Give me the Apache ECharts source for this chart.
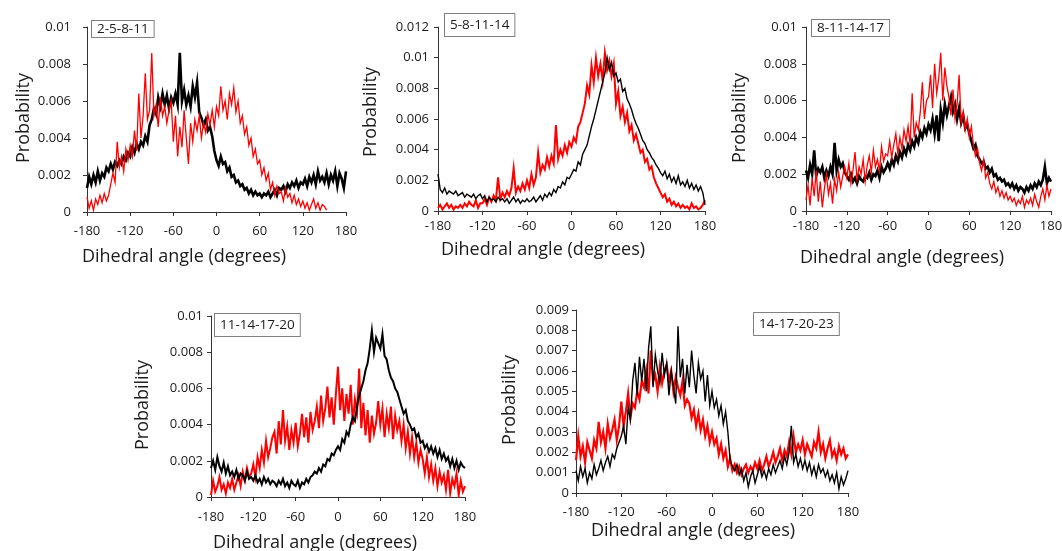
<!DOCTYPE html>
<html>
<head>
<meta charset="utf-8">
<script src="https://cdn.jsdelivr.net/npm/echarts@6/dist/echarts.min.js"></script>
<style>
  html, body { margin: 0; background: #fff; }
  #chart { width: 1062px; height: 551px; }
</style>
</head>
<body>
<div id="chart"></div>
<script>
// dihedral angle bins (degrees), one every 3 degrees from -180 to 180
const angleStep = 3
const angles = []
for (let a = -180; a <= 180; a += angleStep) angles.push(a)

// probabilities, in units of 1e-4 (one row = 30 degrees)
const p1Black = [
  13, 19, 15, 20, 16, 22, 17, 21, 19, 24,
  22, 26, 23, 27, 25, 28, 26, 30, 28, 32,
  30, 35, 32, 37, 34, 38, 36, 41, 38, 47,
  50, 56, 53, 62, 57, 64, 58, 63, 56, 62,
  59, 64, 58, 86, 60, 66, 58, 63, 57, 68,
  62, 70, 54, 51, 47, 50, 44, 46, 41, 33,
  28, 25, 30, 26, 27, 22, 24, 19, 20, 16,
  17, 14, 15, 12, 13, 10, 12, 9, 11, 9,
  10, 8, 10, 9, 11, 8, 10, 12, 9, 13,
  12, 14, 11, 15, 13, 16, 14, 17, 13, 16,
  15, 18, 14, 19, 16, 20, 15, 22, 17, 19,
  16, 21, 15, 20, 17, 22, 14, 21, 18, 13,
  22
]
const p1Red = [
  8, 2, 6, 1, 7, 4, 9, 5, 10, 6,
  9, 15, 21, 16, 38, 24, 30, 22, 34, 28,
  36, 30, 44, 33, 64, 40, 52, 75, 50, 55,
  86, 52, 58, 46, 62, 52, 57, 48, 55, 60,
  38, 52, 30, 46, 35, 55, 40, 26, 48, 38,
  50, 44, 52, 40, 48, 43, 53, 47, 55, 46,
  57, 52, 68, 55, 60, 50, 64, 58, 67, 54,
  60, 48, 52, 42, 46, 36, 40, 30, 34, 26,
  28, 20, 24, 17, 21, 12, 16, 9, 14, 10,
  11, 6, 13, 8, 10, 5, 9, 4, 7, 3,
  6, 2, 5, 1, 4, 7, 2, 5, 1, 4,
  3, 1, null, null, null, null, null, null, null, null,
  null
]
const p2Black = [
  24, 14, 12, 15, 11, 13, 12, 11, 13, 10,
  11, 12, 9, 11, 10, 9, 11, 8, 10, 11,
  8, 10, 6, 9, 7, 8, 6, 9, 7, 8,
  6, 8, 5, 7, 9, 6, 8, 5, 7, 6,
  8, 6, 7, 9, 6, 8, 10, 7, 11, 9,
  12, 10, 14, 12, 16, 15, 19, 17, 22, 21,
  24, 27, 26, 32, 30, 37, 40, 43, 49, 55,
  60, 66, 72, 78, 84, 90, 100, 92, 97, 88,
  90, 84, 86, 78, 80, 73, 70, 66, 61, 57,
  54, 50, 46, 44, 40, 38, 35, 33, 30, 28,
  25, 23, 26, 21, 24, 19, 22, 18, 23, 17,
  19, 16, 20, 15, 18, 14, 17, 13, 16, 12,
  4
]
const p2Red = [
  2, 4, 1, 3, 5, 2, 4, 1, 3, 2,
  4, 2, 5, 3, 6, 4, 3, 7, 2, 5,
  5, 8, 4, 9, 6, 10, 7, 22, 8, 12,
  9, 13, 10, 15, 28, 12, 16, 13, 18, 14,
  20, 15, 24, 17, 22, 38, 25, 30, 27, 35,
  29, 36, 31, 56, 34, 40, 36, 43, 38, 45,
  42, 48, 45, 55, 58, 64, 70, 82, 76, 95,
  84, 100, 88, 96, 85, 103, 92, 98, 88, 96,
  70, 78, 62, 68, 58, 64, 52, 56, 46, 50,
  44, 38, 40, 32, 34, 27, 29, 22, 18, 15,
  12, 9, 11, 6, 8, 4, 6, 3, 5, 2,
  4, 2, 3, 1, 5, 2, 3, 1, 2, 4,
  7
]
const p3Black = [
  22, 18, 25, 20, 33, 19, 23, 21, 24, 18,
  22, 19, 24, 20, 37, 22, 28, 24, 26, 21,
  19, 17, 20, 16, 18, 15, 19, 17, 16, 19,
  18, 21, 17, 20, 19, 22, 18, 24, 21, 23,
  26, 23, 28, 25, 30, 27, 32, 29, 34, 31,
  36, 33, 38, 35, 40, 37, 43, 40, 45, 42,
  47, 44, 50, 42, 52, 38, 55, 48, 58, 52,
  57, 62, 54, 58, 50, 56, 48, 52, 45, 47,
  42, 38, 34, 36, 30, 28, 26, 27, 23, 24,
  21, 23, 19, 20, 17, 18, 16, 17, 14, 15,
  13, 15, 12, 14, 11, 13, 12, 10, 13, 11,
  14, 12, 15, 13, 16, 14, 17, 24, 15, 18,
  16
]
const p3Red = [
  6, 14, 3, 18, 8, 22, 5, 16, 2, 12,
  20, 9, 15, 4, 17, 11, 21, 13, 19, 24,
  18, 26, 15, 22, 32, 17, 24, 20, 28, 16,
  25, 30, 21, 33, 24, 28, 22, 35, 27, 31,
  30, 38, 29, 36, 42, 31, 40, 34, 44, 38,
  46, 36, 64, 40, 48, 44, 54, 70, 50, 60,
  62, 74, 56, 80, 64, 72, 86, 60, 78, 68,
  62, 52, 66, 50, 58, 74, 48, 54, 44, 50,
  40, 46, 36, 30, 34, 26, 22, 28, 18, 21,
  15, 12, 16, 10, 13, 8, 11, 7, 10, 6,
  8, 5, 7, 3, 6, 4, 8, 2, 6, 4,
  7, 3, 9, 5, 2, 8, 12, 6, 14, 8,
  12
]
const p4Black = [
  16, 20, 15, 22, 17, 14, 19, 13, 17, 12,
  14, 11, 15, 10, 13, 12, 9, 14, 10, 11,
  9, 12, 8, 10, 7, 11, 8, 10, 7, 9,
  8, 6, 9, 7, 10, 6, 8, 5, 9, 7,
  6, 9, 5, 8, 7, 10, 8, 11, 12, 14,
  13, 16, 14, 18, 17, 21, 20, 24, 23, 26,
  28, 26, 32, 30, 36, 34, 40, 44, 42, 50,
  56, 60, 64, 70, 74, 82, 92, 80, 88, 85,
  82, 90, 78, 76, 70, 66, 64, 60, 58, 54,
  50, 46, 48, 42, 40, 37, 38, 33, 35, 30,
  31, 27, 29, 25, 28, 24, 27, 22, 26, 21,
  24, 20, 22, 17, 21, 16, 20, 15, 19, 17,
  16
]
const p4Red = [
  1, 9, 3, 6, 11, 4, 7, 2, 8, 5,
  10, 4, 8, 12, 6, 14, 9, 16, 11, 13,
  18, 11, 22, 16, 26, 19, 31, 22, 27, 33,
  36, 24, 42, 29, 48, 31, 39, 26, 37, 30,
  41, 28, 35, 46, 33, 44, 30, 47, 37, 42,
  50, 38, 56, 42, 49, 61, 44, 55, 40, 57,
  72, 48, 60, 42, 57, 46, 62, 40, 54, 47,
  71, 38, 52, 34, 48, 30, 45, 35, 41, 53,
  40, 49, 33, 46, 38, 50, 32, 45, 37, 42,
  31, 40, 27, 36, 24, 33, 22, 30, 19, 26,
  21, 13, 22, 11, 18, 9, 16, 6, 14, 8,
  12, 4, 15, 2, 10, 6, 13, 1, 9, 3,
  6
]
const p5Black = [
  11, 6, 13, 8, 12, 5, 10, 7, 14, 9,
  12, 16, 11, 15, 18, 13, 19, 17, 22, 25,
  28, 33, 24, 42, 36, 55, 64, 48, 67, 55,
  66, 50, 71, 82, 52, 68, 60, 54, 69, 58,
  64, 48, 60, 52, 44, 82, 57, 66, 49, 63,
  52, 70, 58, 49, 64, 56, 60, 45, 58, 43,
  50, 42, 46, 38, 43, 34, 40, 30, 16, 13,
  11, 14, 9, 12, 6, 10, 3, 8, 11, 5,
  9, 13, 8, 11, 7, 12, 9, 14, 10, 13,
  16, 12, 18, 14, 20, 33, 15, 19, 13, 17,
  12, 16, 11, 15, 9, 13, 8, 14, 10, 12,
  8, 11, 6, 9, 5, 10, 2, 8, 4, 7,
  11
]
const p5Red = [
  16, 28, 18, 23, 15, 25, 21, 17, 26, 22,
  35, 25, 30, 22, 34, 27, 31, 36, 26, 33,
  45, 33, 40, 49, 37, 44, 42, 50, 46, 55,
  52, 60, 49, 70, 55, 58, 50, 62, 54, 60,
  63, 55, 60, 50, 57, 52, 48, 55, 43, 46,
  44, 37, 41, 33, 39, 31, 36, 28, 33, 25,
  30, 24, 27, 19, 24, 17, 21, 13, 17, 11,
  14, 10, 13, 9, 12, 14, 10, 13, 11, 15,
  12, 16, 11, 14, 18, 13, 16, 20, 15, 18,
  22, 16, 21, 18, 25, 19, 28, 20, 24, 21,
  26, 19, 24, 21, 18, 25, 22, 30, 20, 24,
  17, 22, 26, 18, 21, 16, 23, 19, 22, 17,
  19
]

const xTicks = { min: -180, max: 180, step: 60 }
const dataScale = 10000

const font = '"Open Sans", "Liberation Sans", sans-serif'
const ink = '#1a1a1a'
const axisColor = '#333'

// layout of the five panels (pixel positions)
const panels = [
  { label: '2-5-8-11', black: p1Black, red: p1Red, yMax: 0.01, yStep: 0.002,
    grid: { left: 87, top: 27, width: 259, height: 185 },
    blackWidth: 2.6, redWidth: 1.3, redOnTop: true, yMargin: 16, xMargin: 13,
    box: [92, 21, [1, 5]], yTitle: [24, 118], xTitle: [184, 257] },
  { label: '5-8-11-14', black: p2Black, red: p2Red, yMax: 0.012, yStep: 0.002,
    grid: { left: 438, top: 27, width: 267, height: 184 },
    blackWidth: 1.4, redWidth: 2, redOnTop: false, yMargin: 9, xMargin: 9,
    box: [445, 14, [4, 5]], yTitle: [371, 112], xTitle: [543, 250] },
  { label: '8-11-14-17', black: p3Black, red: p3Red, yMax: 0.01, yStep: 0.002,
    grid: { left: 806, top: 27, width: 245, height: 184 },
    blackWidth: 2.6, redWidth: 1.3, redOnTop: true, yMargin: 9, xMargin: 9,
    box: [812, 20, [1, 5]], yTitle: [740, 118], xTitle: [902, 258] },
  { label: '11-14-17-20', black: p4Black, red: p4Red, yMax: 0.01, yStep: 0.002,
    grid: { left: 211, top: 316, width: 254, height: 181 },
    blackWidth: 2, redWidth: 2, redOnTop: false, yMargin: 8, xMargin: 14,
    box: [215, 314, [4, 5]], yTitle: [143, 405], xTitle: [315, 543] },
  { label: '14-17-20-23', black: p5Black, red: p5Red, yMax: 0.009, yStep: 0.001,
    grid: { left: 576, top: 310, width: 272, height: 183 },
    blackWidth: 1.4, redWidth: 2.2, redOnTop: false, yMargin: 7, xMargin: 13,
    box: [754, 313, [4, 5]], yTitle: [510, 400], xTitle: [693, 531] }
]

const toPoints = (values) => angles.map((a, i) =>
  [a, values[i] == null ? null : values[i] / dataScale])

const grids = []
const xAxes = []
const yAxes = []
const series = []
const graphics = []

panels.forEach((p, i) => {
  grids.push({ ...p.grid, outerBoundsMode: 'none', containLabel: false })
  xAxes.push({
    type: 'value', gridIndex: i,
    min: xTicks.min, max: xTicks.max, interval: xTicks.step,
    axisLine: { show: true, onZero: false, lineStyle: { color: axisColor, width: 1 } },
    axisTick: { show: true, length: 4, lineStyle: { color: axisColor } },
    axisLabel: { color: ink, fontSize: 13, fontFamily: font, margin: p.xMargin },
    splitLine: { show: false }
  })
  yAxes.push({
    type: 'value', gridIndex: i,
    min: 0, max: p.yMax, interval: p.yStep,
    axisLine: { show: true, onZero: false, lineStyle: { color: axisColor, width: 1 } },
    axisTick: { show: true, length: 4, lineStyle: { color: axisColor } },
    axisLabel: { color: ink, fontSize: 13, fontFamily: font, margin: p.yMargin },
    splitLine: { show: false }
  })

  const blackSeries = {
    name: p.label + ' black', type: 'line', xAxisIndex: i, yAxisIndex: i,
    data: toPoints(p.black), showSymbol: false, silent: true,
    lineStyle: { color: '#000000', width: p.blackWidth, join: 'miter' }
  }
  const redSeries = {
    name: p.label + ' red', type: 'line', xAxisIndex: i, yAxisIndex: i,
    data: toPoints(p.red), showSymbol: false, silent: true,
    lineStyle: { color: '#ff0000', width: p.redWidth, join: 'miter' }
  }
  if (p.redOnTop) series.push(blackSeries, redSeries)
  else series.push(redSeries, blackSeries)

  graphics.push({
    type: 'text', x: p.box[0], y: p.box[1], z: 100,
    style: {
      text: p.label, font: '13.5px ' + font, fill: ink,
      align: 'left', verticalAlign: 'top',
      borderColor: '#808080', borderWidth: 1, backgroundColor: '#fff',
      padding: p.box[2]
    }
  })
  graphics.push({
    type: 'text', x: p.yTitle[0], y: p.yTitle[1], rotation: Math.PI / 2,
    style: {
      text: 'Probability', font: '18px ' + font, fill: ink,
      align: 'center', verticalAlign: 'middle'
    }
  })
  graphics.push({
    type: 'text', x: p.xTitle[0], y: p.xTitle[1],
    style: {
      text: 'Dihedral angle (degrees)', font: '18px ' + font, fill: ink,
      align: 'center', verticalAlign: 'middle'
    }
  })
})

const chart = echarts.init(document.getElementById('chart'))
chart.setOption({
  animation: false,
  backgroundColor: '#fff',
  grid: grids,
  xAxis: xAxes,
  yAxis: yAxes,
  series: series,
  graphic: graphics
})
</script>
</body>
</html>
